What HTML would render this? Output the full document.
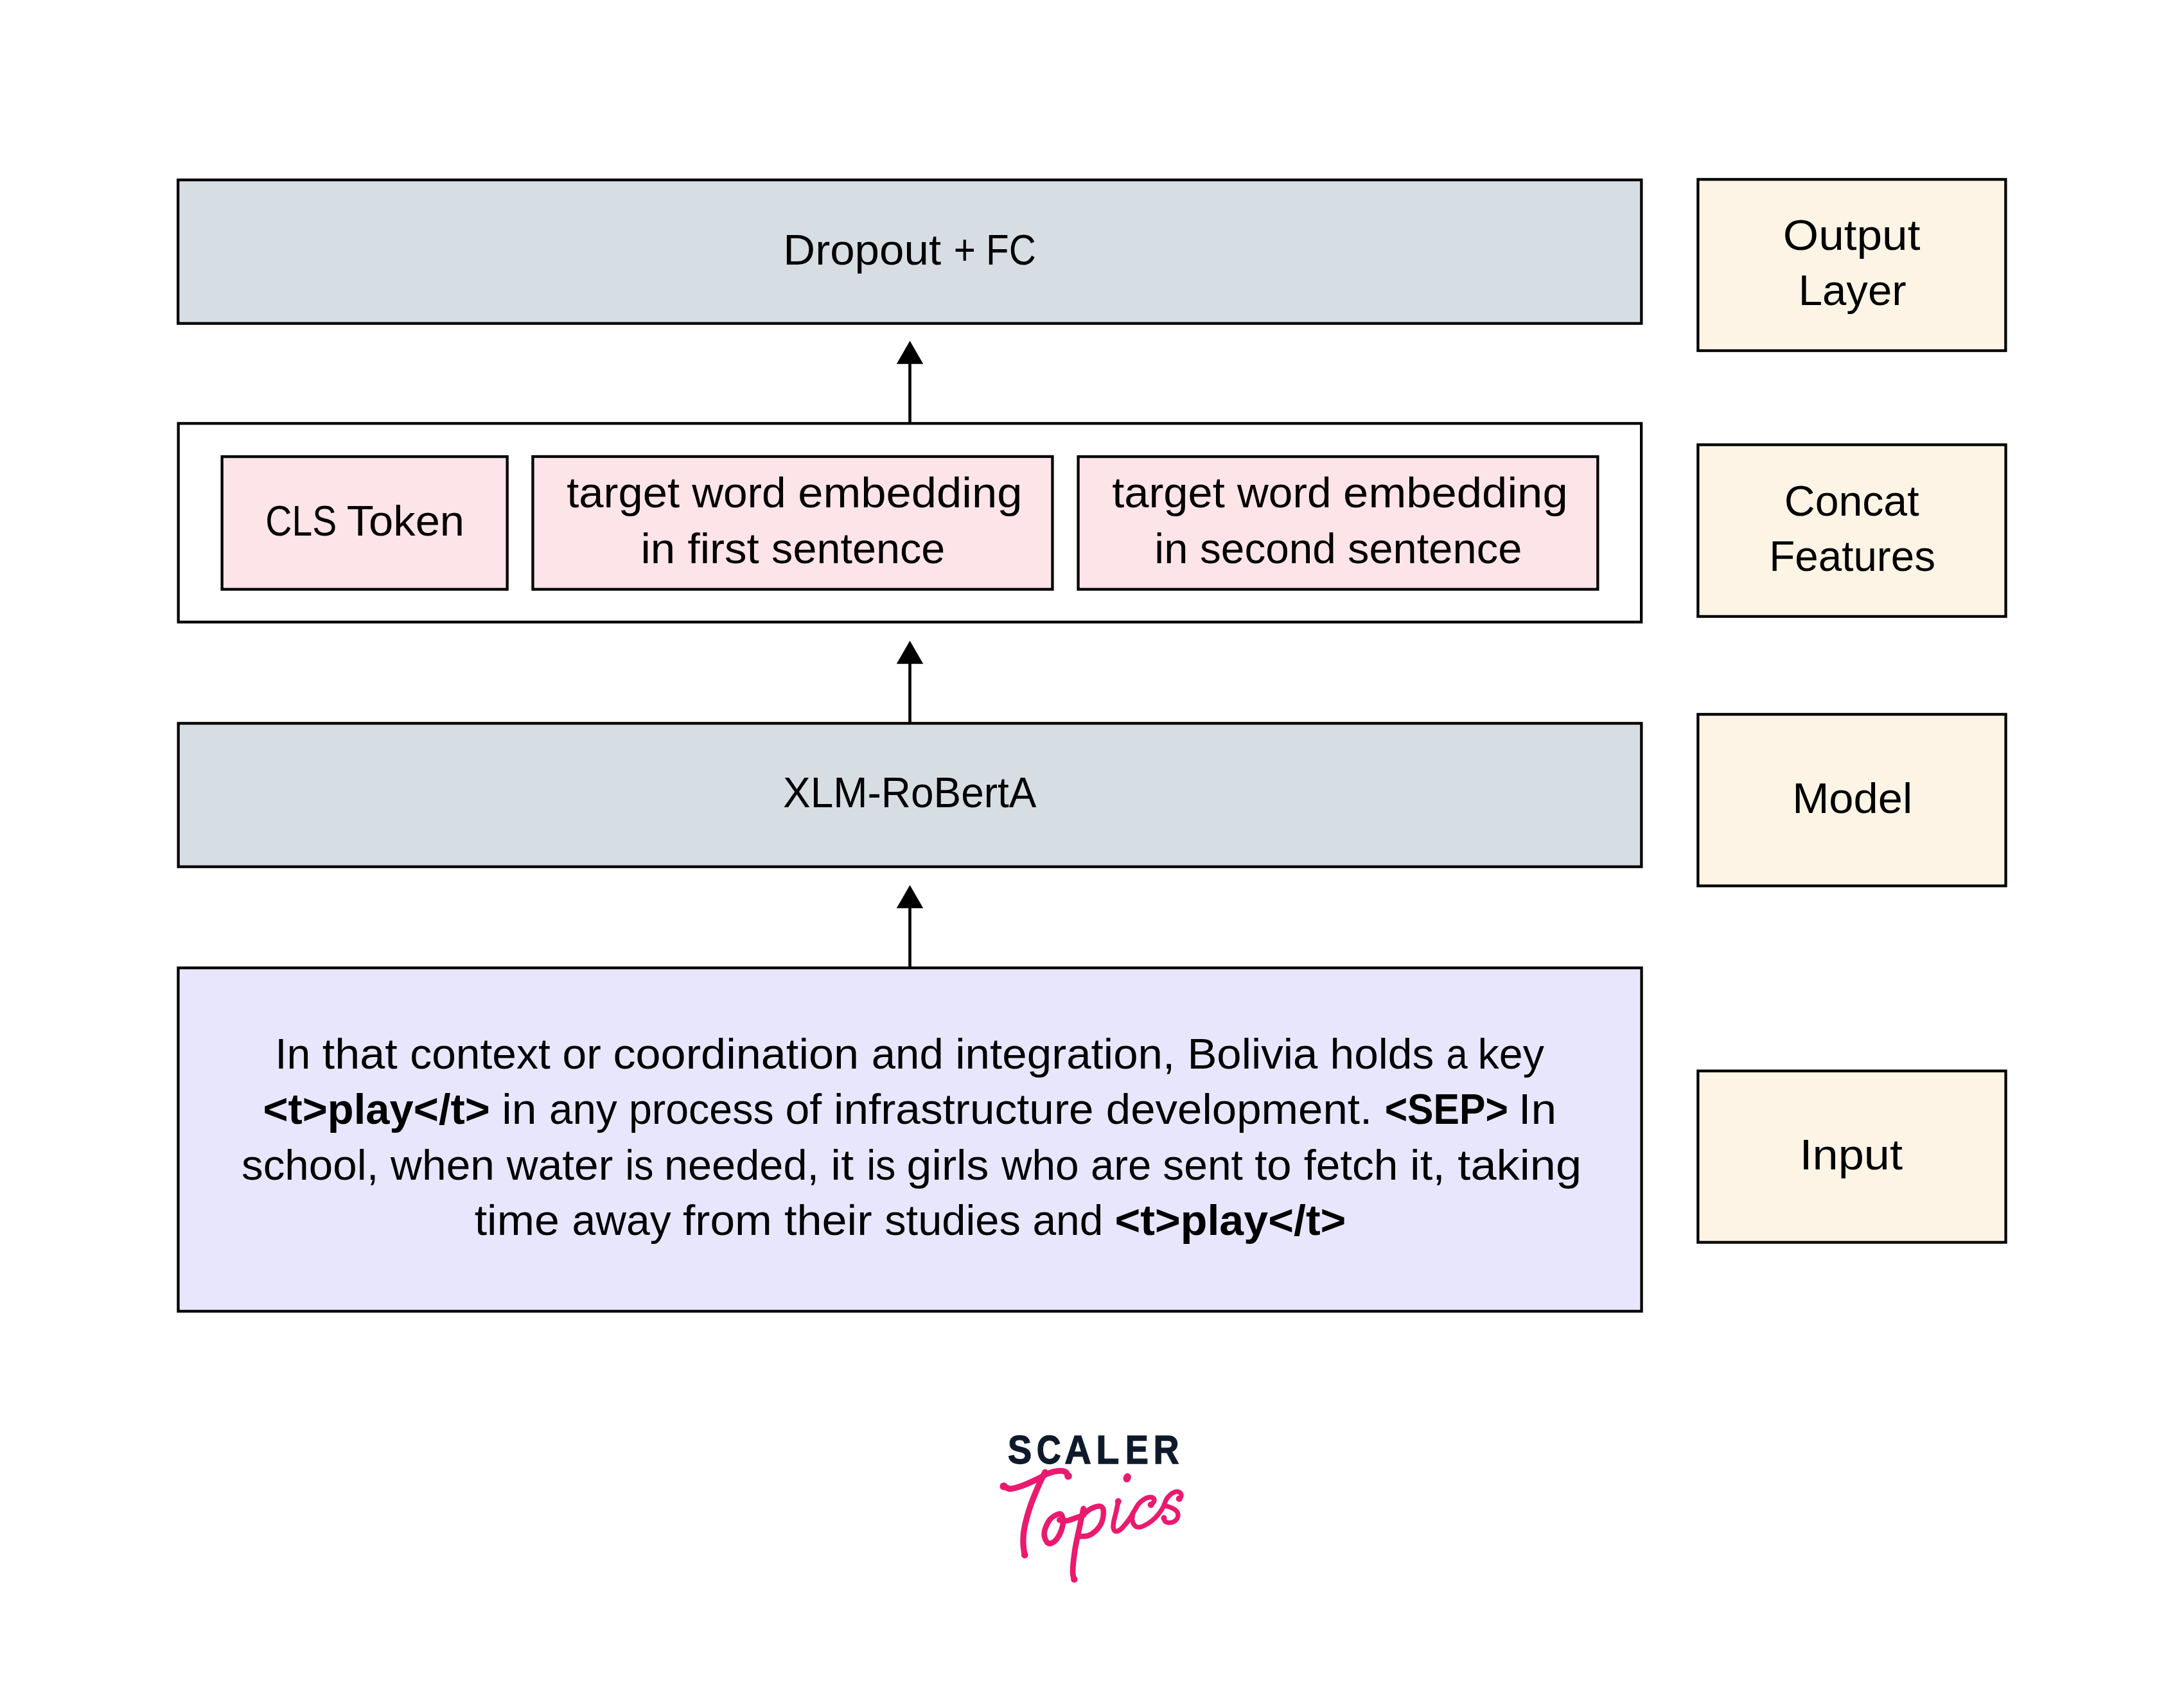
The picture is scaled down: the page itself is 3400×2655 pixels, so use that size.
<!DOCTYPE html>
<html><head><meta charset="utf-8"><title>XLM-RoBertA architecture</title>
<style>
html,body{margin:0;padding:0;background:#fff;width:3400px;height:2655px;overflow:hidden;}
svg{display:block;}
text{font-family:"Liberation Sans",sans-serif;font-size:67px;fill:#000;}
tspan.b,text.b{font-weight:bold;}
.logo text{font-size:63.4px;font-weight:bold;fill:#0e1a2c;stroke:#0e1a2c;stroke-width:1.3px;}
</style></head>
<body>
<svg width="3400" height="2655" viewBox="0 0 3400 2655">
<rect x="0" y="0" width="3400" height="2655" fill="#fff"/>
<g stroke="#000" stroke-width="4.30">
<rect x="277.15" y="280.15" width="2278.20" height="223.50" fill="#d6dde3"/>
<rect x="277.65" y="659.35" width="2277.50" height="309.30" fill="#ffffff"/>
<rect x="345.65" y="711.05" width="444.00" height="206.60" fill="#fde4e9"/>
<rect x="829.45" y="710.95" width="809.00" height="206.70" fill="#fde4e9"/>
<rect x="1678.55" y="711.05" width="808.80" height="206.60" fill="#fde4e9"/>
<rect x="277.65" y="1126.35" width="2277.70" height="223.30" fill="#d6dde3"/>
<rect x="277.45" y="1507.15" width="2278.10" height="534.70" fill="#e8e6fd"/>
<rect x="2643.35" y="279.35" width="479.00" height="266.70" fill="#fdf4e5"/>
<rect x="2643.35" y="692.55" width="479.20" height="267.40" fill="#fdf4e5"/>
<rect x="2643.35" y="1112.35" width="479.20" height="267.10" fill="#fdf4e5"/>
<rect x="2643.35" y="1667.65" width="479.20" height="266.90" fill="#fdf4e5"/>
</g>
<line x1="1416.5" y1="565.7" x2="1416.5" y2="659" stroke="#000" stroke-width="4.6"/>
<path d="M1416.5 530.7 L1437.25 566.7 L1395.75 566.7 Z" fill="#000"/>
<line x1="1416.5" y1="1032.7" x2="1416.5" y2="1126" stroke="#000" stroke-width="4.6"/>
<path d="M1416.5 997.7 L1437.25 1033.7 L1395.75 1033.7 Z" fill="#000"/>
<line x1="1416.5" y1="1413.3" x2="1416.5" y2="1507" stroke="#000" stroke-width="4.6"/>
<path d="M1416.5 1378.2 L1437.25 1414.3 L1395.75 1414.3 Z" fill="#000"/>
<text x="428.17" y="1664.20" textLength="55.25" lengthAdjust="spacingAndGlyphs">In</text>
<text x="501.75" y="1664.20" textLength="116.94" lengthAdjust="spacingAndGlyphs">that</text>
<text x="638.27" y="1664.20" textLength="218.48" lengthAdjust="spacingAndGlyphs">context</text>
<text x="875.57" y="1664.20" textLength="60.20" lengthAdjust="spacingAndGlyphs">or</text>
<text x="954.45" y="1664.20" textLength="382.69" lengthAdjust="spacingAndGlyphs">coordination</text>
<text x="1356.80" y="1664.20" textLength="111.96" lengthAdjust="spacingAndGlyphs">and</text>
<text x="1487.27" y="1664.20" textLength="341.94" lengthAdjust="spacingAndGlyphs">integration,</text>
<text x="1848.43" y="1664.20" textLength="202.90" lengthAdjust="spacingAndGlyphs">Bolivia</text>
<text x="2070.55" y="1664.20" textLength="161.73" lengthAdjust="spacingAndGlyphs">holds</text>
<text x="2251.44" y="1664.20" textLength="33.10" lengthAdjust="spacingAndGlyphs">a</text>
<text x="2300.55" y="1664.20" textLength="103.32" lengthAdjust="spacingAndGlyphs">key</text>
<text class="b" x="409.40" y="1750.00" textLength="353.51" lengthAdjust="spacingAndGlyphs">&lt;t&gt;play&lt;/t&gt;</text>
<text x="781.34" y="1750.00" textLength="54.20" lengthAdjust="spacingAndGlyphs">in</text>
<text x="855.07" y="1750.00" textLength="105.63" lengthAdjust="spacingAndGlyphs">any</text>
<text x="978.95" y="1750.00" textLength="225.76" lengthAdjust="spacingAndGlyphs">process</text>
<text x="1222.45" y="1750.00" textLength="56.78" lengthAdjust="spacingAndGlyphs">of</text>
<text x="1298.06" y="1750.00" textLength="404.48" lengthAdjust="spacingAndGlyphs">infrastructure</text>
<text x="1721.81" y="1750.00" textLength="414.33" lengthAdjust="spacingAndGlyphs">development.</text>
<text class="b" x="2155.69" y="1750.00" textLength="192.14" lengthAdjust="spacingAndGlyphs">&lt;SEP&gt;</text>
<text x="2363.71" y="1750.00" textLength="59.49" lengthAdjust="spacingAndGlyphs">In</text>
<text x="375.99" y="1837.00" textLength="213.40" lengthAdjust="spacingAndGlyphs">school,</text>
<text x="608.10" y="1837.00" textLength="161.89" lengthAdjust="spacingAndGlyphs">when</text>
<text x="788.80" y="1837.00" textLength="165.47" lengthAdjust="spacingAndGlyphs">water</text>
<text x="973.46" y="1837.00" textLength="43.98" lengthAdjust="spacingAndGlyphs">is</text>
<text x="1033.92" y="1837.00" textLength="241.17" lengthAdjust="spacingAndGlyphs">needed,</text>
<text x="1293.36" y="1837.00" textLength="35.55" lengthAdjust="spacingAndGlyphs">it</text>
<text x="1349.15" y="1837.00" textLength="45.31" lengthAdjust="spacingAndGlyphs">is</text>
<text x="1411.58" y="1837.00" textLength="127.94" lengthAdjust="spacingAndGlyphs">girls</text>
<text x="1558.90" y="1837.00" textLength="120.77" lengthAdjust="spacingAndGlyphs">who</text>
<text x="1697.98" y="1837.00" textLength="94.26" lengthAdjust="spacingAndGlyphs">are</text>
<text x="1810.33" y="1837.00" textLength="124.58" lengthAdjust="spacingAndGlyphs">sent</text>
<text x="1953.17" y="1837.00" textLength="57.54" lengthAdjust="spacingAndGlyphs">to</text>
<text x="2029.89" y="1837.00" textLength="146.51" lengthAdjust="spacingAndGlyphs">fetch</text>
<text x="2195.00" y="1837.00" textLength="54.79" lengthAdjust="spacingAndGlyphs">it,</text>
<text x="2269.32" y="1837.00" textLength="192.85" lengthAdjust="spacingAndGlyphs">taking</text>
<text x="738.66" y="1922.90" textLength="132.26" lengthAdjust="spacingAndGlyphs">time</text>
<text x="890.54" y="1922.90" textLength="154.22" lengthAdjust="spacingAndGlyphs">away</text>
<text x="1063.07" y="1922.90" textLength="138.65" lengthAdjust="spacingAndGlyphs">from</text>
<text x="1220.95" y="1922.90" textLength="136.64" lengthAdjust="spacingAndGlyphs">their</text>
<text x="1377.21" y="1922.90" textLength="211.65" lengthAdjust="spacingAndGlyphs">studies</text>
<text x="1607.45" y="1922.90" textLength="109.91" lengthAdjust="spacingAndGlyphs">and</text>
<text class="b" x="1735.55" y="1922.90" textLength="359.81" lengthAdjust="spacingAndGlyphs">&lt;t&gt;play&lt;/t&gt;</text>
<text x="1219.31" y="412.10" textLength="245.80" lengthAdjust="spacingAndGlyphs">Dropout</text>
<text x="1484.79" y="412.10" textLength="34.08" lengthAdjust="spacingAndGlyphs">+</text>
<text x="1535.09" y="412.10" textLength="77.59" lengthAdjust="spacingAndGlyphs">FC</text>
<text x="2775.81" y="388.80" textLength="213.64" lengthAdjust="spacingAndGlyphs">Output</text>
<text x="2799.69" y="475.00" textLength="167.92" lengthAdjust="spacingAndGlyphs">Layer</text>
<text x="413.25" y="834.10" textLength="110.92" lengthAdjust="spacingAndGlyphs">CLS</text>
<text x="539.65" y="834.10" textLength="183.47" lengthAdjust="spacingAndGlyphs">Token</text>
<text x="882.27" y="789.90" textLength="175.83" lengthAdjust="spacingAndGlyphs">target</text>
<text x="1077.20" y="789.90" textLength="146.50" lengthAdjust="spacingAndGlyphs">word</text>
<text x="1242.34" y="789.90" textLength="349.05" lengthAdjust="spacingAndGlyphs">embedding</text>
<text x="997.47" y="876.90" textLength="53.80" lengthAdjust="spacingAndGlyphs">in</text>
<text x="1070.47" y="876.90" textLength="111.37" lengthAdjust="spacingAndGlyphs">first</text>
<text x="1201.11" y="876.90" textLength="270.21" lengthAdjust="spacingAndGlyphs">sentence</text>
<text x="1731.17" y="790.00" textLength="175.74" lengthAdjust="spacingAndGlyphs">target</text>
<text x="1926.00" y="790.00" textLength="146.50" lengthAdjust="spacingAndGlyphs">word</text>
<text x="2091.14" y="790.00" textLength="349.56" lengthAdjust="spacingAndGlyphs">embedding</text>
<text x="1797.30" y="876.80" textLength="52.11" lengthAdjust="spacingAndGlyphs">in</text>
<text x="1868.04" y="876.80" textLength="211.76" lengthAdjust="spacingAndGlyphs">second</text>
<text x="2098.00" y="876.80" textLength="271.33" lengthAdjust="spacingAndGlyphs">sentence</text>
<text x="2777.84" y="802.80" textLength="209.76" lengthAdjust="spacingAndGlyphs">Concat</text>
<text x="2754.23" y="889.00" textLength="258.73" lengthAdjust="spacingAndGlyphs">Features</text>
<text x="1219.09" y="1257.00" textLength="394.29" lengthAdjust="spacingAndGlyphs">XLM-RoBertA</text>
<text x="2790.15" y="1265.70" textLength="187.05" lengthAdjust="spacingAndGlyphs">Model</text>
<text x="2801.43" y="1821.00" textLength="160.60" lengthAdjust="spacingAndGlyphs">Input</text>
<g class="logo">
<text transform="translate(1568.71 2279.15) scale(0.8872 1)" x="0" y="0">S</text>
<text transform="translate(1613.74 2279.15) scale(0.8279 1)" x="0" y="0">C</text>
<text transform="translate(1657.19 2279.15) scale(0.9091 1)" x="0" y="0">A</text>
<text transform="translate(1706.17 2279.15) scale(0.9333 1)" x="0" y="0">L</text>
<text transform="translate(1751.68 2279.15) scale(0.8556 1)" x="0" y="0">E</text>
<text transform="translate(1795.49 2279.15) scale(0.8780 1)" x="0" y="0">R</text>
</g><g fill="none" stroke="#ea1a6e" stroke-linecap="round" stroke-linejoin="round">
<path stroke-width="9.3" d="M1562.80 2314.00 C1564.57 2314.73 1568.10 2318.68 1573.40 2318.40 C1578.70 2318.12 1587.37 2314.98 1594.60 2312.30 C1601.83 2309.62 1610.87 2305.18 1616.80 2302.30 C1622.73 2299.42 1625.18 2296.95 1630.20 2295.00 C1635.22 2293.05 1642.07 2291.05 1646.90 2290.60 C1651.73 2290.15 1656.60 2290.92 1659.20 2292.30 C1661.80 2293.68 1661.95 2297.80 1662.50 2298.90"/>
<path stroke-width="9.3" d="M1626.90 2292.30 C1625.22 2295.82 1620.70 2304.32 1616.80 2313.40 C1612.90 2322.48 1607.20 2335.65 1603.50 2346.80 C1599.80 2357.95 1596.37 2371.02 1594.60 2380.30 C1592.83 2389.58 1592.82 2395.63 1592.90 2402.50 C1592.98 2409.37 1594.73 2418.33 1595.10 2421.50"/>
<path stroke-width="8.6" d="M1648.25 2357.66 C1645.03 2358.53 1637.94 2361.76 1634.20 2366.45 C1630.46 2371.14 1626.68 2380.23 1625.80 2385.80 C1624.92 2391.38 1627.22 2396.97 1628.90 2399.90 C1630.58 2402.83 1632.97 2404.28 1635.90 2403.40 C1638.83 2402.52 1643.42 2399.29 1646.50 2394.60 C1649.58 2389.91 1653.23 2380.82 1654.40 2375.25 C1655.57 2369.68 1654.53 2364.13 1653.50 2361.20 C1652.47 2358.27 1651.47 2356.78 1648.25 2357.66 Z"/>
<path stroke-width="8.6" d="M1649.20 2366.90 C1651.23 2367.08 1657.13 2368.55 1661.40 2368.00 C1665.67 2367.45 1670.53 2365.08 1674.80 2363.60 C1679.07 2362.12 1684.97 2359.85 1687.00 2359.10"/>
<path stroke-width="8.8" d="M1686.70 2349.10 C1685.60 2354.30 1682.32 2369.53 1680.10 2380.30 C1677.88 2391.07 1675.08 2402.55 1673.40 2413.70 C1671.72 2424.85 1670.18 2439.58 1670.00 2447.20 C1669.82 2454.82 1671.92 2457.37 1672.30 2459.40"/>
<path stroke-width="8.4" d="M1684.50 2360.00 C1686.92 2358.18 1694.17 2351.48 1699.00 2349.10 C1703.83 2346.72 1710.35 2344.58 1713.50 2345.70 C1716.65 2346.82 1718.08 2350.78 1717.90 2355.80 C1717.72 2360.82 1715.92 2370.05 1712.40 2375.80 C1708.88 2381.55 1702.00 2387.52 1696.80 2390.30 C1691.60 2393.08 1683.80 2392.13 1681.20 2392.50"/>
<path stroke-width="7.6" d="M1740.80 2338.50 C1740.32 2340.87 1739.08 2347.35 1737.90 2352.70 C1736.72 2358.05 1734.45 2366.05 1733.70 2370.60 C1732.95 2375.15 1732.77 2377.67 1733.40 2380.00 C1734.03 2382.33 1735.65 2384.35 1737.50 2384.60 C1739.35 2384.85 1742.08 2383.35 1744.50 2381.50 C1746.92 2379.65 1749.67 2376.25 1752.00 2373.50 C1754.33 2370.75 1756.55 2367.83 1758.50 2365.00 C1760.45 2362.17 1762.22 2358.98 1763.70 2356.50 C1765.18 2354.02 1765.90 2352.57 1767.40 2350.10 C1768.90 2347.63 1770.32 2344.33 1772.70 2341.70 C1775.08 2339.07 1778.88 2335.98 1781.70 2334.30 C1784.52 2332.62 1787.32 2331.87 1789.60 2331.60 C1791.88 2331.33 1794.25 2331.63 1795.40 2332.70 C1796.55 2333.77 1797.12 2336.23 1796.50 2338.00 C1795.88 2339.77 1792.50 2342.42 1791.70 2343.30"/>
<path stroke-width="7.3" d="M1764.20 2355.00 C1763.95 2357.00 1762.25 2363.50 1762.70 2367.00 C1763.15 2370.50 1765.05 2374.15 1766.90 2376.00 C1768.75 2377.85 1771.17 2378.28 1773.80 2378.10 C1776.43 2377.92 1779.45 2376.57 1782.70 2374.90 C1785.95 2373.23 1789.95 2370.82 1793.30 2368.10 C1796.65 2365.38 1799.90 2362.12 1802.80 2358.60 C1805.70 2355.08 1808.58 2350.88 1810.70 2347.00 C1812.82 2343.12 1813.65 2338.57 1815.50 2335.30 C1817.35 2332.03 1819.52 2329.42 1821.80 2327.40 C1824.08 2325.38 1827.00 2323.90 1829.20 2323.20 C1831.40 2322.50 1833.42 2322.58 1835.00 2323.20 C1836.58 2323.82 1838.17 2325.50 1838.70 2326.90 C1839.23 2328.30 1838.68 2330.45 1838.20 2331.60 C1837.72 2332.75 1836.20 2333.43 1835.80 2333.80"/>
<path stroke-width="7.2" d="M1812.30 2344.30 C1813.53 2344.65 1817.23 2345.52 1819.70 2346.40 C1822.17 2347.28 1824.90 2348.18 1827.10 2349.60 C1829.30 2351.02 1831.85 2352.70 1832.90 2354.90 C1833.95 2357.10 1834.20 2360.43 1833.40 2362.80 C1832.60 2365.17 1830.38 2367.70 1828.10 2369.10 C1825.82 2370.50 1822.15 2371.28 1819.70 2371.20 C1817.25 2371.12 1814.68 2369.82 1813.40 2368.60 C1812.12 2367.38 1812.23 2364.68 1812.00 2363.90"/>
</g>
<g fill="#ea1a6e">
<circle cx="1562.5" cy="2314.5" r="6.0"/>
<circle cx="1663" cy="2298.5" r="5.8"/>
<circle cx="1595.3" cy="2421.3" r="5.4"/>
<circle cx="1672.3" cy="2459.3" r="5.2"/>
<circle cx="1740.8" cy="2338.0" r="5.0"/>
<circle cx="1791.7" cy="2343.3" r="5.0"/>
<circle cx="1835.8" cy="2333.8" r="5.0"/>
<circle cx="1812.0" cy="2363.9" r="4.6"/>
<ellipse cx="1754.7" cy="2301.2" rx="6" ry="7.2" transform="rotate(20 1754.7 2301.2)"/>
</g>
</svg>
</body></html>
